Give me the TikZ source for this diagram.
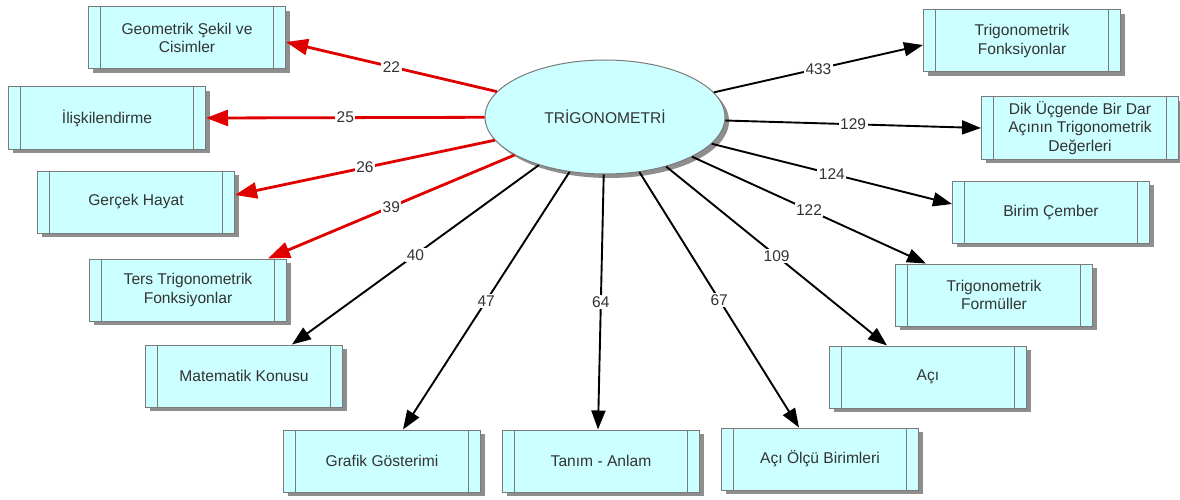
\documentclass[tikz,border=0pt]{standalone}
\usepackage{fontspec}
\setmainfont{Liberation Sans}
\usetikzlibrary{shapes.geometric,arrows.meta,shadows}

\definecolor{kutumavi}{HTML}{CCFFFF}
\definecolor{kenargri}{HTML}{7A7A7A}
\definecolor{golgegri}{HTML}{8E8E8E}
\definecolor{yazigri}{HTML}{333333}
\definecolor{oklirmizi}{HTML}{E00000}

\begin{document}
\begin{tikzpicture}[x=1pt, y=-1pt,
    kutu/.style={draw=kenargri, line width=1pt, fill=kutumavi, text=yazigri,
        minimum width=197pt, minimum height=62pt, align=center, inner sep=0pt,
        font=\fontsize{15.6}{18.8}\selectfont,
        drop shadow={shadow xshift=4pt, shadow yshift=-4pt, fill=golgegri, opacity=1},
        path picture={
            \draw[kenargri, line width=1pt]
                ([xshift=12pt]path picture bounding box.north west) -- ([xshift=12pt]path picture bounding box.south west)
                ([xshift=-12pt]path picture bounding box.north east) -- ([xshift=-12pt]path picture bounding box.south east);
        }},
    merkez/.style={ellipse, draw=kenargri, line width=1pt, fill=kutumavi, text=yazigri,
        minimum width=240pt, minimum height=114pt, inner sep=0pt,
        font=\fontsize{15.6}{18}\selectfont,
        drop shadow={shadow xshift=4pt, shadow yshift=-4pt, fill=golgegri, opacity=1}},
    kirmizi/.style={draw=oklirmizi, line width=2.8pt, -{Triangle[length=22pt, width=16pt]}},
    siyah/.style={draw=black, line width=1.9pt, -{Triangle[length=19pt, width=14pt]}},
    etiket/.style={fill=white, inner sep=1.5pt, text=yazigri, font=\fontsize{15.5}{15.5}\selectfont}]

    \useasboundingbox (0,0) rectangle (1180,500);

    % Nodo central
    \node (trig) [merkez] at (605,117) {TRİGONOMETRİ};

    % Nodos de la izquierda
    \node (geo) [kutu] at (187,38) {Geometrik Şekil ve\\Cisimler};
    \node (ilis) [kutu] at (107,118) {İlişkilendirme};
    \node (gercek) [kutu] at (136,202) {Gerçek Hayat};
    \node (ters) [kutu] at (188,290) {Ters Trigonometrik\\Fonksiyonlar};
    \node (mat) [kutu] at (244,376) {Matematik Konusu};

    % Nodos de abajo
    \node (grafik) [kutu] at (382,461) {Grafik Gösterimi};
    \node (tanim) [kutu] at (601,461) {Tanım - Anlam};
    \node (olcu) [kutu] at (820,459) {Açı Ölçü Birimleri};

    % Nodos de la derecha
    \node (aci) [kutu] at (928,377) {Açı};
    \node (formul) [kutu] at (994,295) {Trigonometrik\\Formüller};
    \node (birim) [kutu] at (1051,212) {Birim Çember};
    \node (dik) [kutu] at (1080,128) {Dik Üçgende Bir Dar\\Açının Trigonometrik\\Değerleri};
    \node (fonk) [kutu] at (1022,41) {Trigonometrik\\Fonksiyonlar};

    % Flechas rojas
    \draw[kirmizi] (trig) -- ([yshift=-4pt]geo.east) node[etiket, midway] {22};
    \draw[kirmizi] (trig) -- (ilis.east) node[etiket, midway] {25};
    \draw[kirmizi] (trig) -- ([yshift=7pt]gercek.east) node[etiket, midway] {26};
    \draw[kirmizi] (trig) -- ([xshift=80pt]ters.north) node[etiket, midway] {39};

    % Flechas negras
    \draw[siyah] (trig) -- ([xshift=48pt]mat.north) node[etiket, midway] {40};
    \draw[siyah] (trig) -- ([xshift=21pt]grafik.north) node[etiket, midway] {47};
    \draw[siyah] (trig) -- ([xshift=-3pt]tanim.north) node[etiket, midway] {64};
    \draw[siyah] (trig) -- ([xshift=-21pt]olcu.north) node[etiket, midway] {67};
    \draw[siyah] (trig) -- ([xshift=-41pt]aci.north) node[etiket, midway] {109};
    \draw[siyah] (trig) -- ([xshift=-68pt]formul.north) node[etiket, midway] {122};
    \draw[siyah] (trig) -- ([yshift=8pt]birim.west) node[etiket, midway] {124};
    \draw[siyah] (trig) -- (dik.west) node[etiket, midway] {129};
    \draw[siyah] (trig) -- ([yshift=-4pt]fonk.west) node[etiket, midway] {433};

\end{tikzpicture}
\end{document}
